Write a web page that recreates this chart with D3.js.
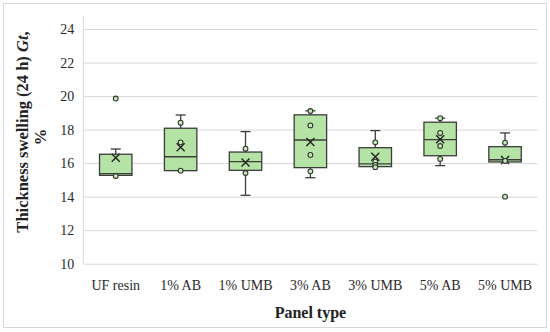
<!DOCTYPE html>
<html><head><meta charset="utf-8">
<script src="https://cdn.jsdelivr.net/npm/d3@7/dist/d3.min.js"></script>
<style>body{margin:0;background:#fff}svg{display:block}</style>
</head><body>
<svg id="c" width="550" height="332"></svg>
<script>
const categories = ["UF resin","1% AB","1% UMB","3% AB","3% UMB","5% AB","5% UMB"];
const whiskerLow  = [15.25, 15.55, 14.08, 15.13, 15.78, 15.85, 16.07];
const q1          = [15.27, 15.55, 15.57, 15.73, 15.79, 16.44, 16.07];
const median      = [15.37, 16.38, 16.09, 17.38, 15.95, 17.40, 16.20];
const q3          = [16.53, 18.08, 16.66, 18.88, 16.92, 18.44, 16.98];
const whiskerHigh = [16.84, 18.87, 17.88, 19.12, 17.94, 18.68, 17.80];
const mean        = [16.32, 16.95, 16.03, 17.26, 16.38, 17.42, 16.19];
const points = [
  [15.23, 19.85],
  [18.41, 17.24, 15.55],
  [16.86, 15.41],
  [19.11, 18.25, 16.49, 15.51],
  [17.24, 16.09, 15.89, 15.76],
  [18.68, 17.80, 17.02, 16.25],
  [17.22, 16.13, 14.00]
];
const yTicks = [10, 12, 14, 16, 18, 20, 22, 24];

const svg = d3.select("#c");
const font = "'Liberation Serif', 'Times New Roman', serif";
const L = 83.3, R = 537.5, T = 29, B = 263.7;

svg.append("rect").attr("x",3.5).attr("y",3.5).attr("width",543).attr("height",324)
  .attr("fill","#fff").attr("stroke","#d9d9d9").attr("stroke-width",1);

const x = d3.scaleBand().domain(categories).range([L, R]).paddingInner(0.5).paddingOuter(0.25);
const y = d3.scaleLinear().domain([10, 24]).range([B, T]);

// grid
const gy = svg.append("g").attr("transform",`translate(${L},0)`)
  .call(d3.axisLeft(y).tickValues(yTicks).tickSize(-(R-L)).tickFormat(d3.format("d")).tickPadding(9));
gy.select(".domain").remove();
gy.selectAll(".tick line").attr("stroke","#d9d9d9").attr("stroke-width",1);
gy.selectAll(".tick text").attr("font-family",font).attr("font-size",14).attr("fill","#2a2a2a");
svg.append("line").attr("x1",L).attr("x2",L).attr("y1",T-13).attr("y2",B).attr("stroke","#d9d9d9");

const gx = svg.append("g").attr("transform",`translate(0,${B})`)
  .call(d3.axisBottom(x).tickSize(0).tickPadding(16));
gx.select(".domain").remove();
gx.selectAll(".tick text").attr("font-family",font).attr("font-size",14).attr("fill","#2a2a2a");

const stroke = "#3c3c3c";
const g = svg.append("g");
categories.forEach((c, i) => {
  const cx = x(c) + x.bandwidth()/2;
  const bw = x.bandwidth();
  const cap = 5;
  g.append("line").attr("x1",cx).attr("x2",cx).attr("y1",y(whiskerHigh[i])).attr("y2",y(q3[i])).attr("stroke",stroke).attr("stroke-width",1.3);
  g.append("line").attr("x1",cx-cap).attr("x2",cx+cap).attr("y1",y(whiskerHigh[i])).attr("y2",y(whiskerHigh[i])).attr("stroke",stroke).attr("stroke-width",1.3);
  if (whiskerLow[i] < q1[i] - 0.05) {
    g.append("line").attr("x1",cx).attr("x2",cx).attr("y1",y(q1[i])).attr("y2",y(whiskerLow[i])).attr("stroke",stroke).attr("stroke-width",1.3);
    g.append("line").attr("x1",cx-cap).attr("x2",cx+cap).attr("y1",y(whiskerLow[i])).attr("y2",y(whiskerLow[i])).attr("stroke",stroke).attr("stroke-width",1.3);
  }
  g.append("rect").attr("x",x(c)).attr("width",bw).attr("y",y(q3[i])).attr("height",y(q1[i])-y(q3[i]))
    .attr("fill","#b5e3a5").attr("stroke",stroke).attr("stroke-width",1.3);
  g.append("line").attr("x1",x(c)).attr("x2",x(c)+bw).attr("y1",y(median[i])).attr("y2",y(median[i])).attr("stroke",stroke).attr("stroke-width",1.3);
  const m = y(mean[i]), s = 4;
  g.append("path").attr("d",`M${cx-s},${m-s}L${cx+s},${m+s}M${cx-s},${m+s}L${cx+s},${m-s}`).attr("stroke","#222").attr("stroke-width",1.4).attr("fill","none");
  points[i].forEach(v => {
    g.append("circle").attr("cx",cx).attr("cy",y(v)).attr("r",2.4).attr("fill","#c4eeb0").attr("stroke","#333").attr("stroke-width",1.1);
  });
});

svg.append("text").attr("x",(L+R)/2).attr("y",318).attr("text-anchor","middle")
  .attr("font-family",font).attr("font-weight","bold").attr("font-size",16).attr("fill","#222").text("Panel type");

const yt = svg.append("text").attr("transform",`translate(28,132) rotate(-90)`).attr("text-anchor","middle")
  .attr("font-family",font).attr("font-weight","bold").attr("font-size",16.5).attr("fill","#222");
yt.append("tspan").text("Thickness swelling (24 h) ");
yt.append("tspan").attr("font-style","italic").text("Gt");
yt.append("tspan").text(",");
svg.append("text").attr("transform",`translate(46,137) rotate(-90)`).attr("text-anchor","middle")
  .attr("font-family",font).attr("font-weight","bold").attr("font-size",16.5).attr("fill","#222").text("%");
</script>
</body></html>
